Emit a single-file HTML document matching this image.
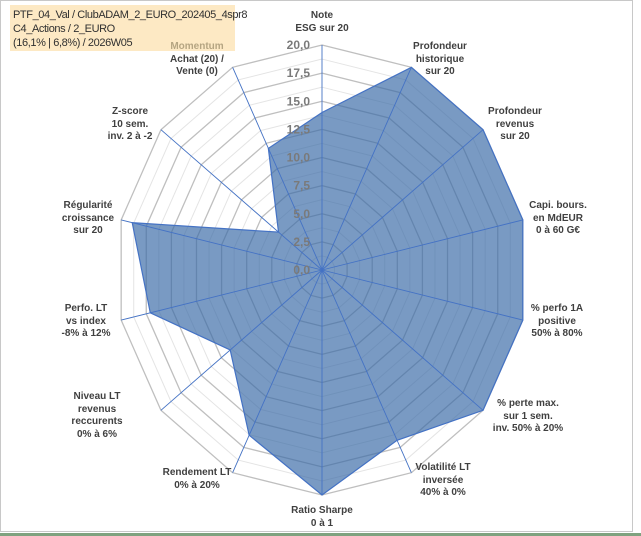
<!DOCTYPE html>
<html><head><meta charset="utf-8">
<style>
html,body{margin:0;padding:0;background:#fff;}
#wrap{position:relative;width:641px;height:536px;overflow:hidden;font-family:"Liberation Sans",sans-serif;}
.lbl{position:absolute;transform:translateX(-50%);text-align:center;font-size:10px;font-weight:bold;color:#404040;line-height:12.5px;white-space:nowrap;}
</style></head><body>
<div id="wrap">
<div style="position:absolute;left:0;top:0;width:631px;height:530px;border:1px solid #c8c8c8;"></div>
<div style="position:absolute;left:0;top:533px;width:641px;height:3px;background:#7fa27f;"></div>
<div style="position:absolute;left:10px;top:5px;width:225px;height:46px;background:#fde9c4;font-size:11px;letter-spacing:-0.4px;white-space:nowrap;color:#303030;line-height:14px;padding:3px 0 0 3px;box-sizing:border-box;">PTF_04_Val / ClubADAM_2_EURO_202405_4spr8<br>C4_Actions / 2_EURO<br>(16,1% | 6,8%) / 2026W05</div>
<svg id="svg" width="641" height="536" style="position:absolute;left:0;top:0;"></svg>
<div class="lbl" style="left:322px;top:10px">Note<br>ESG sur 20</div>
<div class="lbl" style="left:440px;top:41px">Profondeur<br>historique<br>sur 20</div>
<div class="lbl" style="left:515px;top:106px">Profondeur<br>revenus<br>sur 20</div>
<div class="lbl" style="left:558px;top:200px">Capi. bours.<br>en MdEUR<br>0 à 60 G€</div>
<div class="lbl" style="left:557px;top:303px">% perfo 1A<br>positive<br>50% à 80%</div>
<div class="lbl" style="left:528px;top:398px">% perte max.<br>sur 1 sem.<br>inv. 50% à 20%</div>
<div class="lbl" style="left:443px;top:462px">Volatilité LT<br>inversée<br>40% à 0%</div>
<div class="lbl" style="left:322px;top:505px">Ratio Sharpe<br>0 à 1</div>
<div class="lbl" style="left:197px;top:467px">Rendement LT<br>0% à 20%</div>
<div class="lbl" style="left:97px;top:391px">Niveau LT<br>revenus<br>reccurents<br>0% à 6%</div>
<div class="lbl" style="left:86px;top:303px">Perfo. LT<br>vs index<br>-8% à 12%</div>
<div class="lbl" style="left:88px;top:200px">Régularité<br>croissance<br>sur 20</div>
<div class="lbl" style="left:130px;top:106px">Z-score<br>10 sem.<br>inv. 2 à -2</div>
<div class="lbl" style="left:197px;top:41px"><span style="color:#b5a582">Momentum</span><br>Achat (20) /<br>Vente (0)</div>
</div>
<script>
const categories=["ESG","Prof hist","Prof rev","Capi","Perfo 1A","Perte max","Volatilite","Sharpe","Rendement","Niveau rev","Perfo LT","Regularite","Z-score","Momentum"];
const values=[14.0,20,20,20,20,20,16.8,20,16.3,11.4,17.1,18.9,5.4,12.0];
const tickLabels=["0,0","2,5","5,0","7,5","10,0","12,5","15,0","17,5","20,0"];
const ticks=[0,2.5,5,7.5,10,12.5,15,17.5,20];
const cx=322,cy=270,RX=206,RY=225,MAX=20;
const svg=document.getElementById('svg');
const NS='http://www.w3.org/2000/svg';
const N=categories.length;
function pt(i,v){const a=2*Math.PI*i/N;return [cx+RX*v/MAX*Math.sin(a),cy-RY*v/MAX*Math.cos(a)];}
function mk(t,at){const e=document.createElementNS(NS,t);for(const k in at)e.setAttribute(k,at[k]);svg.appendChild(e);return e;}
for(let s=1.25;s<=MAX+0.001;s+=1.25){
  const p=[];for(let i=0;i<N;i++)p.push(pt(i,s).join(','));
  const major=Math.abs(s/2.5-Math.round(s/2.5))<1e-6;
  const g=mk('polygon',{points:p.join(' '),fill:'none',stroke:major?'#bfbfbf':'#e4e4e4','stroke-width':major?1.3:1});
  
  
}
const sp=values.map((v,i)=>pt(i,v).join(',')).join(' ');
const area=mk('polygon',{points:sp,fill:'rgba(58,106,166,0.68)',stroke:'#4472c4','stroke-width':1.2});


for(let i=0;i<N;i++){
  const e=pt(i,MAX);
  const l=mk('line',{x1:cx,y1:cy,x2:e[0],y2:e[1],stroke:'#4472c4','stroke-width':0.9});
  
  
}
ticks.forEach((t,i)=>{
  const y=cy-RY*t/MAX;
  const tx=mk('text',{x:310,y:y+4,'text-anchor':'end','font-family':'Liberation Sans, sans-serif','font-size':12,'font-weight':'bold',fill:'#7a7a7a'});
  tx.textContent=tickLabels[i];
  
  
});
</script>
</body></html>
